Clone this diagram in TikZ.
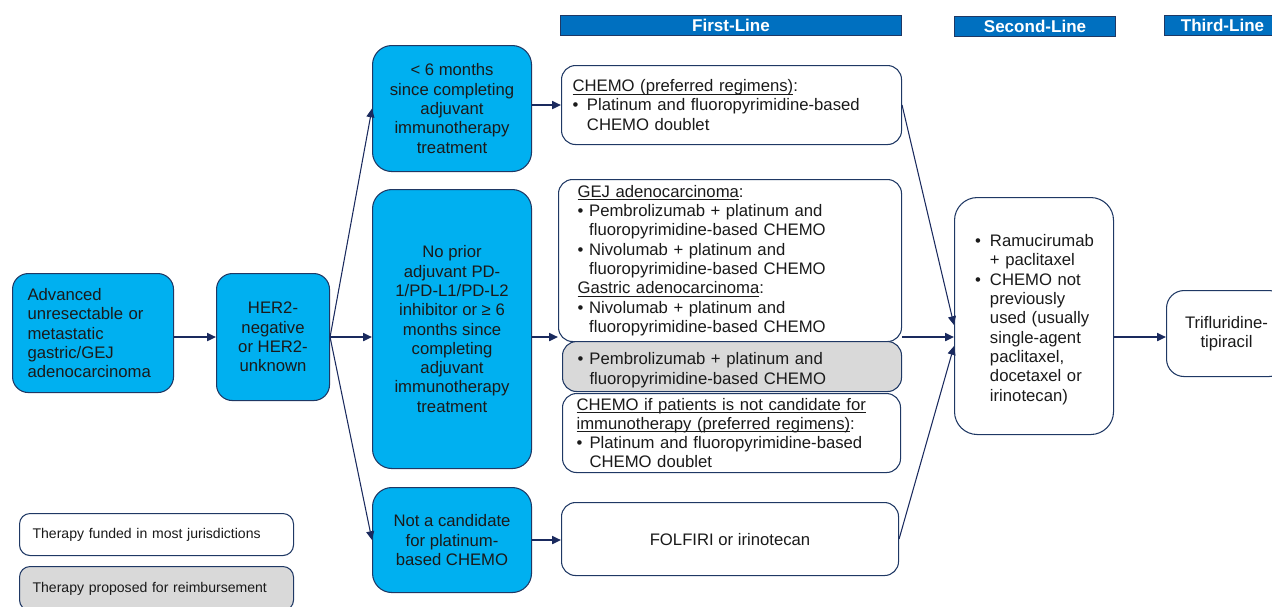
\documentclass[tikz,border=0pt]{standalone}
\usepackage{fontspec}
\setmainfont{Liberation Sans}
\usetikzlibrary{arrows.meta,calc}
\definecolor{navy}{HTML}{1F3864}
\definecolor{cyanbox}{HTML}{00B0F0}
\definecolor{hdrblue}{HTML}{0070C0}
\definecolor{greybox}{HTML}{D9D9D9}
\definecolor{arrownavy}{HTML}{1A2A5E}
\definecolor{inktext}{HTML}{1A1A1A}
\hyphenpenalty=10000
\exhyphenpenalty=10000
% bullet item: first argument is the hanging indent, second the item text
\newcommand\bitem[2]{\par{\leftskip=#1\relax\parindent=-#1\relax
  \indent\makebox[#1][l]{\textbullet}#2\par}}
% underline drawn just below the baseline
\newlength\ulwidth
\newcommand\ulhead[1]{\leavevmode\settowidth\ulwidth{#1}%
  \rlap{\rule[-1.5pt]{\ulwidth}{0.45pt}}#1}
\newcommand\bodyfont{\fontsize{9.5}{11}\selectfont}
\newcommand\legfont{\fontsize{8}{9.5}\selectfont}
\newcommand\hdrfont{\fontsize{9.7}{11}\selectfont\bfseries}

\begin{document}
\begin{tikzpicture}[x=0.02cm,y=-0.02cm,
  sz/.style 2 args={minimum width=#1*0.02cm, minimum height=#2*0.02cm},
  base/.style={draw=navy, line width=0.6pt, anchor=north west, inner sep=0pt,
    font=\bodyfont, text=inktext},
  blu/.style={base, fill=cyanbox, rounded corners=10pt, align=center},
  wht/.style={base, fill=white, rounded corners=8pt, align=left},
  gry/.style={wht, fill=greybox},
  hdr/.style={draw=navy, line width=0.6pt, fill=hdrblue, anchor=north west,
    inner sep=0pt, text=white, font=\hdrfont},
  legbox/.style={base, rounded corners=6pt, align=left, font=\legfont},
  arr/.style={draw=arrownavy, line width=1pt, -{Triangle[length=5pt,width=4.5pt]}},
  darr/.style={arr, line width=0.6pt},
]
\clip (0,0) rectangle (1272,606);

% column headers
\node[hdr, sz={341}{20}] (h1) at (560,15) {First-Line};
\node[hdr, sz={161}{20}] (h2) at (954,16) {Second-Line};
\node[hdr, sz={116}{20}] (h3) at (1164,15) {Third-Line};

% patient population and stratification
\node[blu, sz={161}{119}, align=left, text width=2.62cm, rounded corners=9pt] (A) at (12,273)
  {Advanced\\unresectable or\\metastatic\\gastric/GEJ\\adenocarcinoma};
\node[blu, sz={113}{127}, rounded corners=9pt] (B) at (216,273)
  {HER2-\\negative\\or HER2-\\unknown};
\node[blu, sz={159}{126}, rounded corners=11pt] (C1) at (372,45)
  {< 6 months\\since completing\\adjuvant\\immunotherapy\\treatment};
\node[blu, sz={159}{279}, rounded corners=11pt] (C2) at (372,189)
  {No prior\\adjuvant PD-\\1/PD-L1/PD-L2\\inhibitor or ≥ 6\\months since\\completing\\adjuvant\\immunotherapy\\treatment};
\node[blu, sz={159}{105}, rounded corners=11pt] (C3) at (372,487)
  {Not a candidate\\for platinum-\\based CHEMO};

% first-line therapy
\node[wht, sz={340}{79}, text width=6.36cm] (D1) at (561,65)
  {\noindent\ulhead{CHEMO (preferred regimens)}:%
   \bitem{8.2pt}{Platinum and fluoropyrimidine-based\newline CHEMO doublet}};
\node[wht, sz={343}{162}, text width=6.10cm] (D2) at (558,179)
  {\noindent\ulhead{GEJ adenocarcinoma}:%
   \bitem{6.6pt}{Pembrolizumab + platinum and\newline fluoropyrimidine-based CHEMO}%
   \bitem{6.6pt}{Nivolumab + platinum and\newline fluoropyrimidine-based CHEMO}%
   \par\noindent\ulhead{Gastric adenocarcinoma}:%
   \bitem{6.6pt}{Nivolumab + platinum and\newline fluoropyrimidine-based CHEMO}};
\node[gry, sz={339}{50}, text width=6.18cm] (D3) at (562,341)
  {\bitem{6.8pt}{Pembrolizumab + platinum and\newline fluoropyrimidine-based CHEMO}};
\node[wht, sz={338}{79}, text width=6.20cm] (D4) at (562,393)
  {\noindent\ulhead{CHEMO if patients is not candidate for}\newline
   \ulhead{immunotherapy (preferred regimens)}:%
   \bitem{7.4pt}{Platinum and fluoropyrimidine-based\newline CHEMO doublet}};
\node[wht, sz={337}{73}, align=center] (D5) at (561,502) {FOLFIRI or irinotecan};

% second- and third-line therapy
\node[wht, sz={159}{237}, text width=2.36cm, rounded corners=13pt] (E) at (954,197)
  {\bitem{8.5pt}{Ramucirumab\newline + paclitaxel}%
   \bitem{8.5pt}{CHEMO not\newline previously\newline used (usually\newline single-agent\newline paclitaxel,\newline docetaxel or\newline irinotecan)}};
\node[wht, sz={120}{86}, align=center, rounded corners=10pt] (F) at (1166,290)
  {Trifluridine-\\tipiracil};

% legend
\node[legbox, fill=white, sz={274}{42}, text width=4.96cm] (L1) at (19,513)
  {Therapy funded in most jurisdictions};
\node[legbox, fill=greybox, sz={274}{44}, text width=4.96cm] (L2) at (19,566)
  {Therapy proposed for reimbursement};

% connectors
\draw[arr] (A.east |- B.west) -- (B.west);
\draw[arr] (B.east) -- (B.east -| C2.west);
\draw[darr] (B.east) -- (C1.west);
\draw[darr] (B.east) -- (C3.west);
\draw[arr] (C1.east |- D1.west) -- (D1.west);
\draw[arr] (C2.east |- B.east) -- (D2.west |- B.east);
\draw[arr] (C3.east) -- (C3.east -| D5.west);
\coordinate (Ein1) at ($(E.west)+(0,9)$);
\coordinate (Ein3) at ($(E.west)+(0,30)$);
\draw[darr] (D1.east) -- (Ein1);
\draw[arr] (D2.east |- B.east) -- (E.west |- B.east);
\draw[darr] (D5.east) -- (Ein3);
\draw[arr] (E.east |- B.east) -- (F.west |- B.east);
\end{tikzpicture}
\end{document}
